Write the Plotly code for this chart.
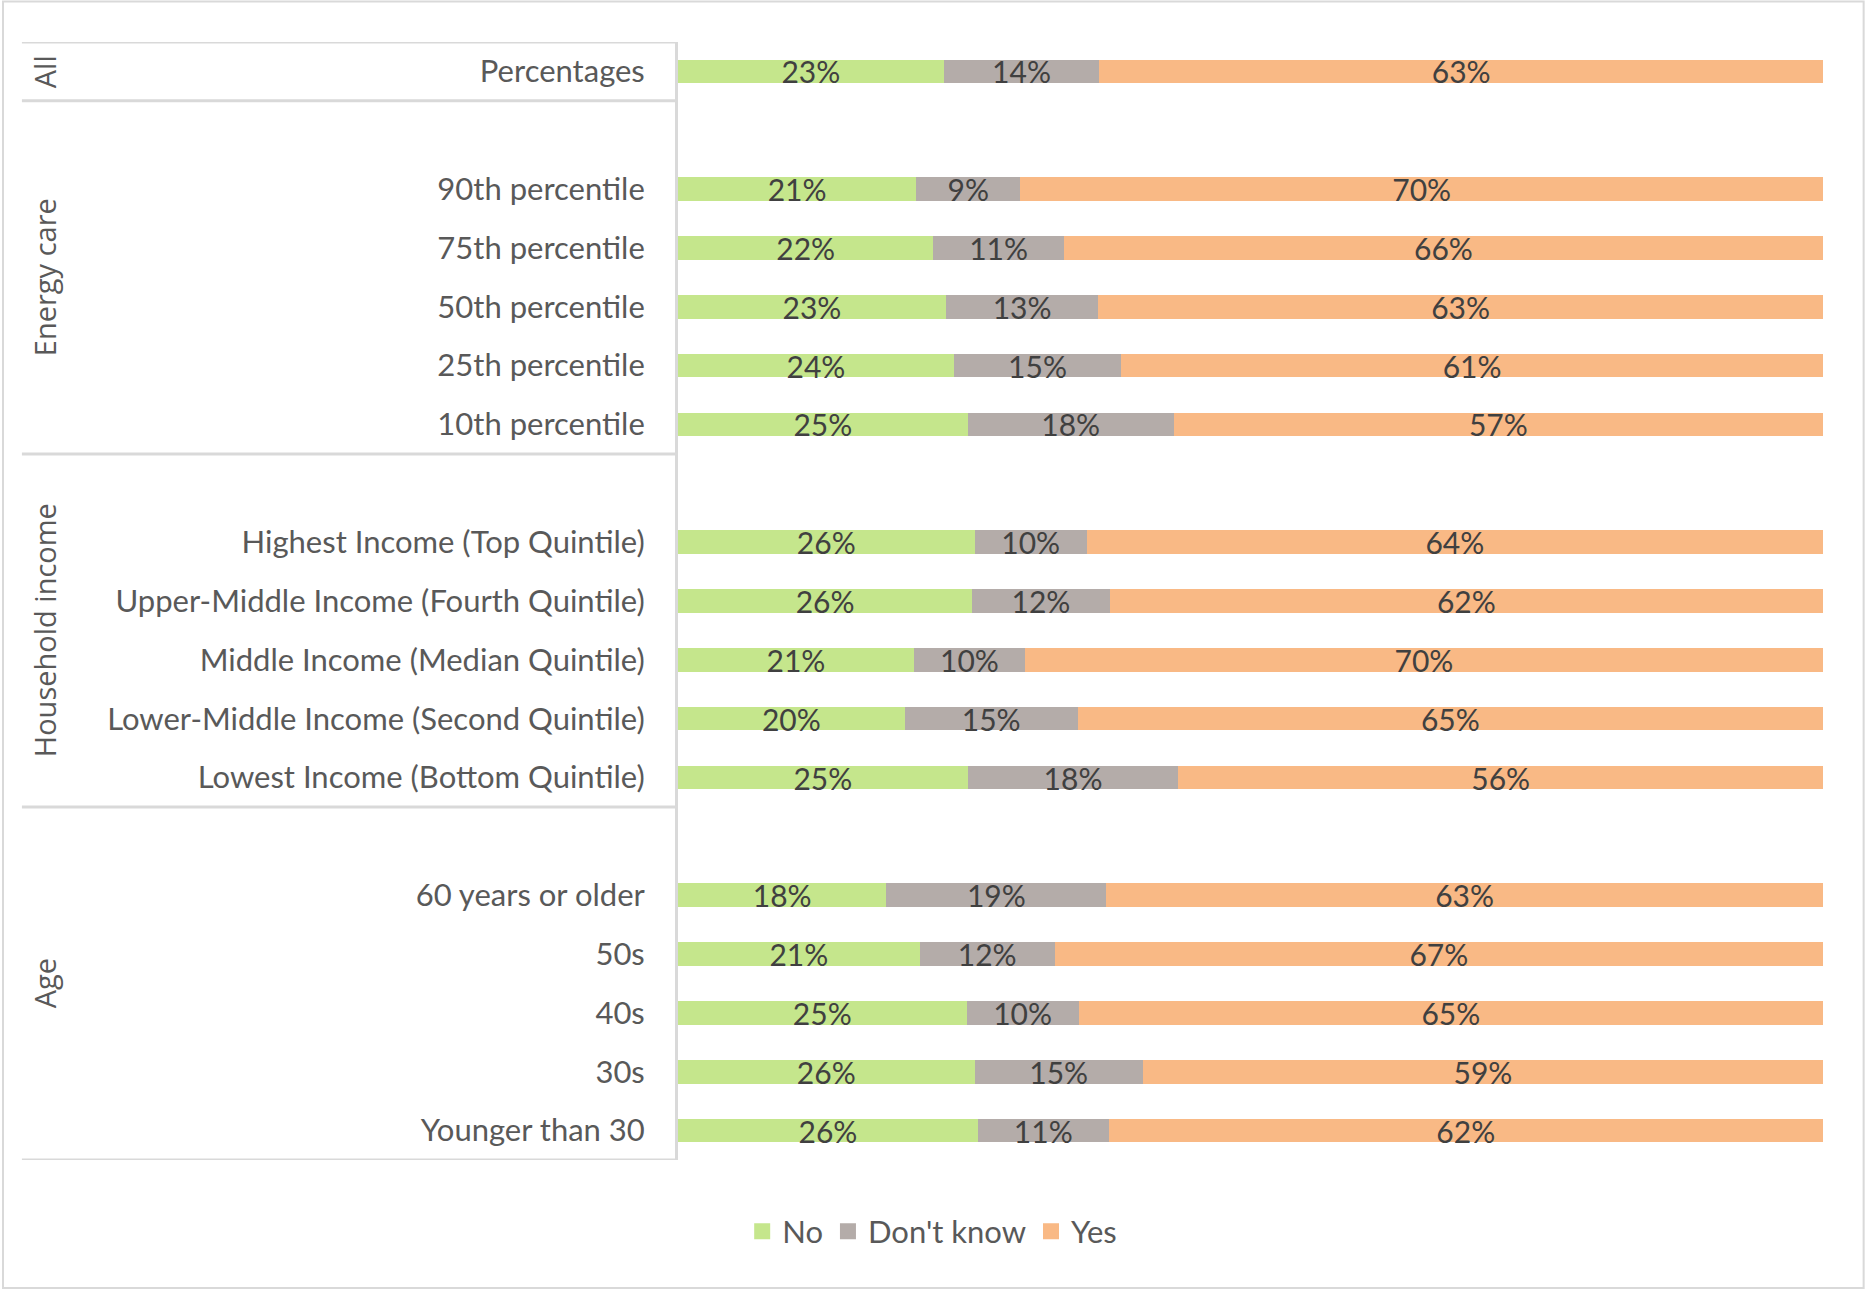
import plotly.graph_objects as go

# ---- data ----
group_names = ["All", "Energy care", "Household income", "Age"]
group_items = [
    ["Percentages"],
    ["90th percentile", "75th percentile", "50th percentile", "25th percentile", "10th percentile"],
    ["Highest Income (Top Quintile)", "Upper-Middle Income (Fourth Quintile)",
     "Middle Income (Median Quintile)", "Lower-Middle Income (Second Quintile)",
     "Lowest Income (Bottom Quintile)"],
    ["60 years or older", "50s", "40s", "30s", "Younger than 30"],
]
series_names = ["No", "Don't know", "Yes"]
no_vals = [23.2, 20.8, 22.3, 23.4, 24.1, 25.3, 25.9, 25.7, 20.6, 19.8, 25.3, 18.2, 21.1, 25.2, 25.9, 26.2]
dk_vals = [13.6, 9.1, 11.4, 13.3, 14.6, 18.0, 9.8, 12.0, 9.7, 15.1, 18.4, 19.2, 11.8, 9.8, 14.7, 11.4]
yes_vals = [63.2, 70.1, 66.3, 63.3, 61.3, 56.7, 64.3, 62.3, 69.7, 65.1, 56.3, 62.6, 67.1, 65.0, 59.4, 62.4]
colors = ["#C5E68C", "#B4ACA9", "#F9B985"]

# ---- build category positions (blank slot before each later group) ----
labels, ypos, group_spans = [], [], []
pos = 0
for gi, items in enumerate(group_items):
    start = pos - 0.5
    if gi > 0:
        pos += 1
    for it in items:
        labels.append(it)
        ypos.append(pos)
        pos += 1
    group_spans.append((start, pos - 0.5))
n_slots = pos

FONT = "Lato, Carlito, Calibri, sans-serif"
fig = go.Figure()
for name, vals, col in zip(series_names, [no_vals, dk_vals, yes_vals], colors):
    fig.add_trace(go.Bar(
        name=name, x=vals, y=ypos, orientation="h",
        marker=dict(color=col, line=dict(width=0)),
        width=0.4, showlegend=False,
        text=[f"{round(v)}%" for v in vals],
        textposition="inside", insidetextanchor="middle",
        constraintext="none",
        textfont=dict(family=FONT, size=30, color="#404040"),
    ))
# legend entries with larger square swatches
for name, col in zip(series_names, colors):
    fig.add_trace(go.Scatter(
        name=name, x=[None], y=[None], mode="markers",
        marker=dict(symbol="square", size=16, color=col),
    ))

shapes = []
boundaries = sorted(set([s for s, e in group_spans] + [e for s, e in group_spans]))
for b in boundaries:
    shapes.append(dict(type="line", xref="paper", yref="y", x0=-0.573, x1=0, y0=b, y1=b,
                       line=dict(color="#D9D9D9", width=3)))
# outer border
shapes.append(dict(type="rect", xref="paper", yref="paper", x0=-0.5895, x1=1.0355, y0=-0.1145, y1=1.0362,
                   line=dict(color="#D9D9D9", width=2)))

annotations = []
for gname, (s, e) in zip(group_names, group_spans):
    annotations.append(dict(text=gname, xref="paper", yref="y", x=-0.553, y=(s + e) / 2,
                            textangle=-90, showarrow=False, xanchor="center", yanchor="middle",
                            font=dict(family="Open Sans, sans-serif", size=29, color="#595959")))

fig.update_layout(
    width=1866, height=1290,
    barmode="stack",
    paper_bgcolor="white", plot_bgcolor="white",
    margin=dict(l=678, r=43, t=42, b=130),
    font=dict(family=FONT, color="#595959"),
    xaxis=dict(range=[0, 100], showgrid=False, zeroline=False, showticklabels=False, showline=False,
               fixedrange=True),
    yaxis=dict(range=[n_slots - 0.5, -0.5], tickmode="array", tickvals=ypos, ticktext=labels,
               showgrid=False, zeroline=False, showline=True, linecolor="#D9D9D9", linewidth=3,
               ticks="", ticklabelstandoff=24,
               tickfont=dict(family=FONT, size=31, color="#595959")),
    legend=dict(orientation="h", x=0.222, xanchor="center", y=-0.064, yanchor="middle",
                font=dict(family=FONT, size=31, color="#595959"), traceorder="normal"),
    shapes=shapes, annotations=annotations,
    uniformtext=dict(minsize=30, mode="show"),
)
fig.write_html("out.html", config={"displayModeBar": False},
               post_script="document.body.style.margin='0';document.body.style.overflow='hidden';")
